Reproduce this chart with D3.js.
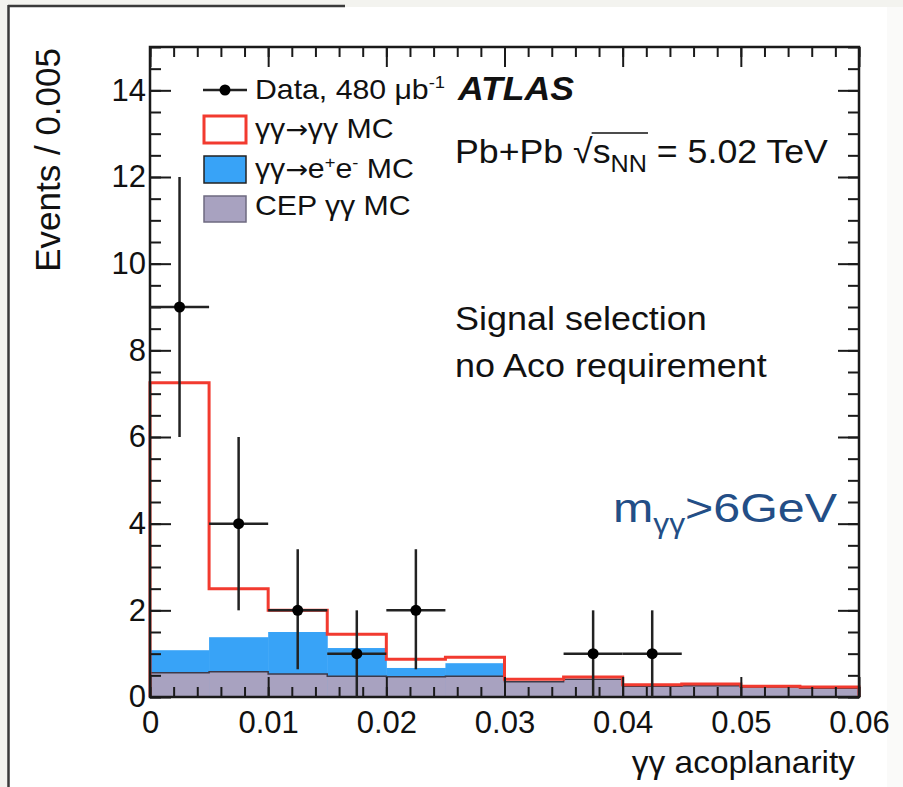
<!DOCTYPE html>
<html>
<head>
<meta charset="utf-8">
<script src="https://cdn.jsdelivr.net/npm/d3@7"></script>
<style>
  html, body { margin: 0; padding: 0; background: #f3f3ef; }
  svg { display: block; font-family: "Liberation Sans", Arial, Helvetica, sans-serif; }
</style>
</head>
<body>
<svg id="chart" width="903" height="787"></svg>
<script>
// histogram bins (lower edges), width 0.005
const binLow = [0, 0.005, 0.01, 0.015, 0.02, 0.025, 0.03, 0.035, 0.04, 0.045, 0.05, 0.055];
const binWidth = 0.005;

// stacked MC contributions per bin
const cepMC    = [0.56, 0.58, 0.53, 0.48, 0.47, 0.48, 0.35, 0.41, 0.25, 0.26, 0.23, 0.20];
const eeMC     = [0.52, 0.80, 0.97, 0.65, 0.20, 0.30, 0.00, 0.00, 0.00, 0.00, 0.00, 0.00];
const signalMC = [6.17, 1.12, 0.50, 0.32, 0.20, 0.14, 0.06, 0.05, 0.03, 0.04, 0.02, 0.03];

// data points
const dataX     = [0.0025, 0.0075, 0.0125, 0.0175, 0.0225, 0.0375, 0.0425];
const dataY     = [9, 4, 2, 1, 2, 1, 1];
const dataErrLo = [3, 2, 1.36, 1, 1.36, 1, 1];
const dataErrHi = [3, 2, 1.41, 1, 1.41, 1, 1];

const xTicks = [0, 0.01, 0.02, 0.03, 0.04, 0.05, 0.06];
const xTickLabels = ['0', '0.01', '0.02', '0.03', '0.04', '0.05', '0.06'];
const yTicks = [0, 2, 4, 6, 8, 10, 12, 14];

const red = '#f23a2f';
const blue = '#38a3f7';
const grey = '#a8a2c0';
const ink = '#1a1a1a';

const svg = d3.select('#chart');

// page / slide frame
svg.append('rect').attr('x', 9).attr('y', 7).attr('width', 878).attr('height', 780).attr('fill', '#fff');
svg.append('rect').attr('x', 887).attr('y', 7).attr('width', 16).attr('height', 780).attr('fill', '#fafaf9');
svg.append('line').attr('x1', 8).attr('x2', 345).attr('y1', 6).attr('y2', 6)
  .attr('stroke', '#3a3a3a').attr('stroke-width', 2.5);
svg.append('line').attr('x1', 8.5).attr('x2', 8.5).attr('y1', 5).attr('y2', 787)
  .attr('stroke', '#3a3a3a').attr('stroke-width', 2.5);

const x = d3.scaleLinear().domain([0, 0.06]).range([150, 859]);
const y = d3.scaleLinear().domain([0, 15]).range([697, 47]);

const bins = binLow.map((lo, i) => ({
  lo: lo,
  hi: lo + binWidth,
  cep: cepMC[i],
  ee: cepMC[i] + eeMC[i],
  total: cepMC[i] + eeMC[i] + signalMC[i]
}));

// stacked fills
const plot = svg.append('g');
plot.selectAll('rect.ee')
  .data(bins)
  .join('rect')
  .attr('class', 'ee')
  .attr('x', d => x(d.lo))
  .attr('width', d => x(d.hi) - x(d.lo) + 0.5)
  .attr('y', d => y(d.ee))
  .attr('height', d => y(0) - y(d.ee))
  .attr('fill', blue);

plot.selectAll('rect.cep')
  .data(bins)
  .join('rect')
  .attr('class', 'cep')
  .attr('x', d => x(d.lo))
  .attr('width', d => x(d.hi) - x(d.lo) + 0.5)
  .attr('y', d => y(d.cep))
  .attr('height', d => y(0) - y(d.cep))
  .attr('fill', grey);

function stepPoints(key) {
  const pts = [[0, 0]];
  bins.forEach(d => { pts.push([d.lo, d[key]]); pts.push([d.hi, d[key]]); });
  pts.push([0.06, 0]);
  return pts;
}
const stepLine = d3.line().x(d => x(d[0])).y(d => y(d[1]));

plot.append('path')
  .attr('d', stepLine(stepPoints('cep')))
  .attr('fill', 'none')
  .attr('stroke', '#3d3a4a')
  .attr('stroke-width', 1.5);

plot.append('path')
  .attr('d', stepLine(stepPoints('total')))
  .attr('fill', 'none')
  .attr('stroke', red)
  .attr('stroke-width', 3);

// axes (ROOT style, ticks inside on all four sides)
function styleAxis(g) {
  g.select('.domain').remove();
  g.selectAll('line').attr('stroke', ink).attr('stroke-width', 2);
  g.selectAll('text').attr('font-size', 31).attr('fill', '#111')
    .attr('font-family', '"Liberation Sans", Arial, sans-serif');
}
const minorX = d3.range(0, 0.0601, 0.002);
const minorY = d3.range(0, 15.01, 0.5);

svg.append('g').attr('transform', 'translate(0,697)')
  .call(d3.axisBottom(x).tickValues(minorX).tickSize(-10).tickSizeOuter(0).tickFormat(''))
  .call(styleAxis);
svg.append('g').attr('transform', 'translate(0,697)')
  .call(d3.axisBottom(x).tickValues(xTicks).tickFormat((d, i) => xTickLabels[i])
    .tickSize(-20).tickSizeOuter(0).tickPadding(14))
  .call(styleAxis);
svg.append('g').attr('transform', 'translate(0,47)')
  .call(d3.axisTop(x).tickValues(minorX).tickSize(-10).tickSizeOuter(0).tickFormat(''))
  .call(styleAxis);
svg.append('g').attr('transform', 'translate(0,47)')
  .call(d3.axisTop(x).tickValues(xTicks).tickSize(-20).tickSizeOuter(0).tickFormat(''))
  .call(styleAxis);

svg.append('g').attr('transform', 'translate(150,0)')
  .call(d3.axisLeft(y).tickValues(minorY).tickSize(-11).tickSizeOuter(0).tickFormat(''))
  .call(styleAxis);
svg.append('g').attr('transform', 'translate(150,0)')
  .call(d3.axisLeft(y).tickValues(yTicks).tickSize(-21).tickSizeOuter(0).tickPadding(4))
  .call(styleAxis);
svg.append('g').attr('transform', 'translate(859,0)')
  .call(d3.axisRight(y).tickValues(minorY).tickSize(-11).tickSizeOuter(0).tickFormat(''))
  .call(styleAxis);
svg.append('g').attr('transform', 'translate(859,0)')
  .call(d3.axisRight(y).tickValues(yTicks).tickSize(-21).tickSizeOuter(0).tickFormat(''))
  .call(styleAxis);

svg.append('rect')
  .attr('x', x(0)).attr('y', y(15))
  .attr('width', x(0.06) - x(0)).attr('height', y(0) - y(15))
  .attr('fill', 'none').attr('stroke', ink).attr('stroke-width', 2.5);

// data with error bars
const pts = dataX.map((d, i) => ({ x: d, y: dataY[i], lo: dataErrLo[i], hi: dataErrHi[i] }));
const dataG = svg.append('g').attr('stroke', '#222').attr('stroke-width', 2.5);
dataG.selectAll('line.h')
  .data(pts)
  .join('line')
  .attr('class', 'h')
  .attr('x1', d => x(d.x - binWidth / 2)).attr('x2', d => x(d.x + binWidth / 2))
  .attr('y1', d => y(d.y)).attr('y2', d => y(d.y));
dataG.selectAll('line.v')
  .data(pts)
  .join('line')
  .attr('class', 'v')
  .attr('x1', d => x(d.x)).attr('x2', d => x(d.x))
  .attr('y1', d => y(d.y - d.lo)).attr('y2', d => y(d.y + d.hi));
svg.append('g').selectAll('circle')
  .data(pts)
  .join('circle')
  .attr('cx', d => x(d.x)).attr('cy', d => y(d.y))
  .attr('r', 5.5).attr('fill', '#000');

// text helper: slight horizontal stretch like the original rendering
function label(tx, ty, size, sx, anchor) {
  return svg.append('text')
    .attr('transform', `translate(${tx},${ty}) scale(${sx},1)`)
    .attr('font-size', size)
    .attr('text-anchor', anchor || 'start')
    .attr('fill', '#111');
}
const arrowFont = '"DejaVu Sans", sans-serif';

// axis titles
svg.append('text')
  .attr('transform', 'translate(60,48) rotate(-90)')
  .attr('text-anchor', 'end')
  .attr('font-size', 35)
  .attr('fill', '#111')
  .text('Events / 0.005');
label(855, 773, 31, 1.08, 'end').text('γγ acoplanarity');

// legend
const leg = svg.append('g');
leg.append('line').attr('x1', 203).attr('x2', 247).attr('y1', 90).attr('y2', 90)
  .attr('stroke', '#222').attr('stroke-width', 2.5);
leg.append('circle').attr('cx', 225).attr('cy', 90).attr('r', 5.5).attr('fill', '#000');
leg.append('rect').attr('x', 204).attr('y', 116).attr('width', 42).attr('height', 27)
  .attr('fill', '#fff').attr('stroke', red).attr('stroke-width', 3);
leg.append('rect').attr('x', 204).attr('y', 156).attr('width', 42).attr('height', 27)
  .attr('fill', blue).attr('stroke', '#222').attr('stroke-width', 1.5);
leg.append('rect').attr('x', 204).attr('y', 196).attr('width', 42).attr('height', 26)
  .attr('fill', grey).attr('stroke', '#6e6a80').attr('stroke-width', 1.5);

const t1 = label(255, 99, 28, 1.08);
t1.append('tspan').text('Data, 480 μb');
t1.append('tspan').attr('font-size', 17).attr('dy', -11).text('-1');
const t2 = label(255, 138, 28, 1.08);
t2.append('tspan').text('γγ');
t2.append('tspan').attr('font-family', arrowFont).attr('font-size', 25).text('→');
t2.append('tspan').text('γγ MC');
const t3 = label(255, 178, 28, 1.08);
t3.append('tspan').text('γγ');
t3.append('tspan').attr('font-family', arrowFont).attr('font-size', 25).text('→');
t3.append('tspan').text('e');
t3.append('tspan').attr('font-size', 17).attr('dy', -10).text('+');
t3.append('tspan').attr('dy', 10).text('e');
t3.append('tspan').attr('font-size', 17).attr('dy', -10).text('-');
t3.append('tspan').attr('dy', 10).text(' MC');
label(255, 215, 28, 1.08).text('CEP γγ MC');

// ATLAS label and energy
label(458, 100, 33, 1.08).attr('font-weight', 'bold').attr('font-style', 'italic').text('ATLAS');
const en = label(455, 163, 34, 1.05);
en.append('tspan').text('Pb+Pb √');
en.append('tspan').text('s');
en.append('tspan').attr('font-size', 24).attr('dy', 9).text('NN');
en.append('tspan').attr('dy', -9).text(' = 5.02 TeV');
const enNode = en.node();
const olStart = enNode.getStartPositionOfChar(7).x - 1;
const olEnd = enNode.getEndPositionOfChar(9).x + 1;
svg.append('line')
  .attr('transform', 'translate(455,163) scale(1.05,1)')
  .attr('x1', olStart).attr('x2', olEnd).attr('y1', -30).attr('y2', -30)
  .attr('stroke', '#111').attr('stroke-width', 1.5);

label(455, 330, 33, 1.09).text('Signal selection');
label(455, 377, 33, 1.09).text('no Aco requirement');

const mass = label(837, 522, 41, 1.18, 'end').attr('fill', '#234e86');
mass.append('tspan').text('m');
mass.append('tspan').attr('font-size', 27).attr('dy', 11).text('γγ');
mass.append('tspan').attr('dy', -11).text('>6GeV');
</script>
</body>
</html>
